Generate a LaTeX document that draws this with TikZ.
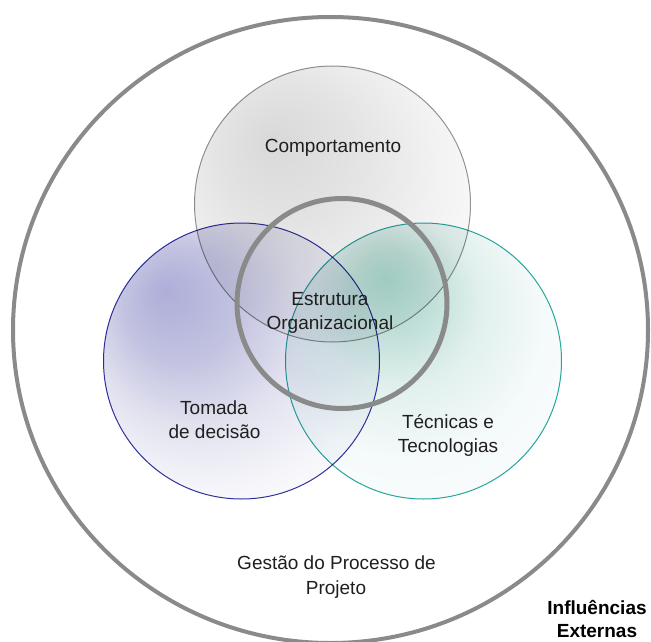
\documentclass[tikz,border=0pt]{standalone}
\usepackage{fontspec}
\setmainfont{Liberation Sans}
\usepackage{xcolor}
\usepackage{tikz}
\usetikzlibrary{shapes.geometric}

\definecolor{ringgray}{RGB}{138,138,138}
\definecolor{compline}{RGB}{150,150,150}
\definecolor{decline}{RGB}{50,50,160}
\definecolor{tecline}{RGB}{40,168,158}
\pgfdeclareradialshading{compshade}{\pgfpoint{-11bp}{12bp}}{rgb(0bp)=(0.85,0.85,0.85); rgb(12bp)=(0.89,0.89,0.89); rgb(25bp)=(0.95,0.95,0.95); rgb(36bp)=(0.99,0.99,0.99); rgb(50bp)=(1,1,1)}
\pgfdeclareradialshading{decshade}{\pgfpoint{-14bp}{13bp}}{rgb(0bp)=(0.68,0.68,0.85); rgb(10bp)=(0.76,0.76,0.88); rgb(20bp)=(0.89,0.89,0.94); rgb(30bp)=(0.97,0.97,0.985); rgb(50bp)=(1,1,1)}
\pgfdeclareradialshading{tecshade}{\pgfpoint{-7bp}{15bp}}{rgb(0bp)=(0.66,0.84,0.8); rgb(7bp)=(0.74,0.87,0.84); rgb(15bp)=(0.88,0.94,0.93); rgb(25bp)=(0.96,0.98,0.98); rgb(50bp)=(1,1,1)}

\begin{document}
\begin{tikzpicture}[x=1pt,y=-1pt,
	every node/.style={inner sep=0pt},
	vtext/.style={font=\fontsize{19}{25}\selectfont, text=black!88, anchor=base},
	venn/.style={circle, minimum size=276pt, line width=1pt}]
	\useasboundingbox (0,0) rectangle (651,642);
	\node[ellipse, draw=ringgray, line width=4pt, minimum width=635pt, minimum height=626pt] (extern) at (330.5,330) {};
	\begin{scope}[blend mode=multiply]
		\node[venn, shading=compshade, draw=compline] (comp) at (332.5,204) {};
		\node[venn, shading=decshade, draw=decline] (dec) at (241.5,361) {};
		\node[venn, shading=tecshade, draw=tecline] (tec) at (423.5,361) {};
	\end{scope}
	\node[circle, draw=ringgray, line width=5pt, minimum size=210pt] (estr) at (342,303.5) {};
	\node[vtext] (comptext) at (333,152.5) {Comportamento};
	\node[vtext] (estr1) at (330,305) {Estrutura};
	\node[vtext] (estr2) at (330,329.5) {Organizacional};
	\node[vtext] (dec1) at (214,414) {Tomada};
	\node[vtext] (dec2) at (214.5,438.5) {de decisão};
	\node[vtext] (tec1) at (448,428) {Técnicas e};
	\node[vtext] (tec2) at (448,452.5) {Tecnologias};
	\node[vtext] (gest1) at (336.5,569) {Gestão do Processo de};
	\node[vtext] (gest2) at (336,594) {Projeto};
	\node[vtext, font=\fontsize{19}{25}\selectfont\bfseries, text=black] (infl1) at (597,614) {Influências};
	\node[vtext, font=\fontsize{19}{25}\selectfont\bfseries, text=black] (infl2) at (597,637) {Externas};
\end{tikzpicture}
\end{document}
